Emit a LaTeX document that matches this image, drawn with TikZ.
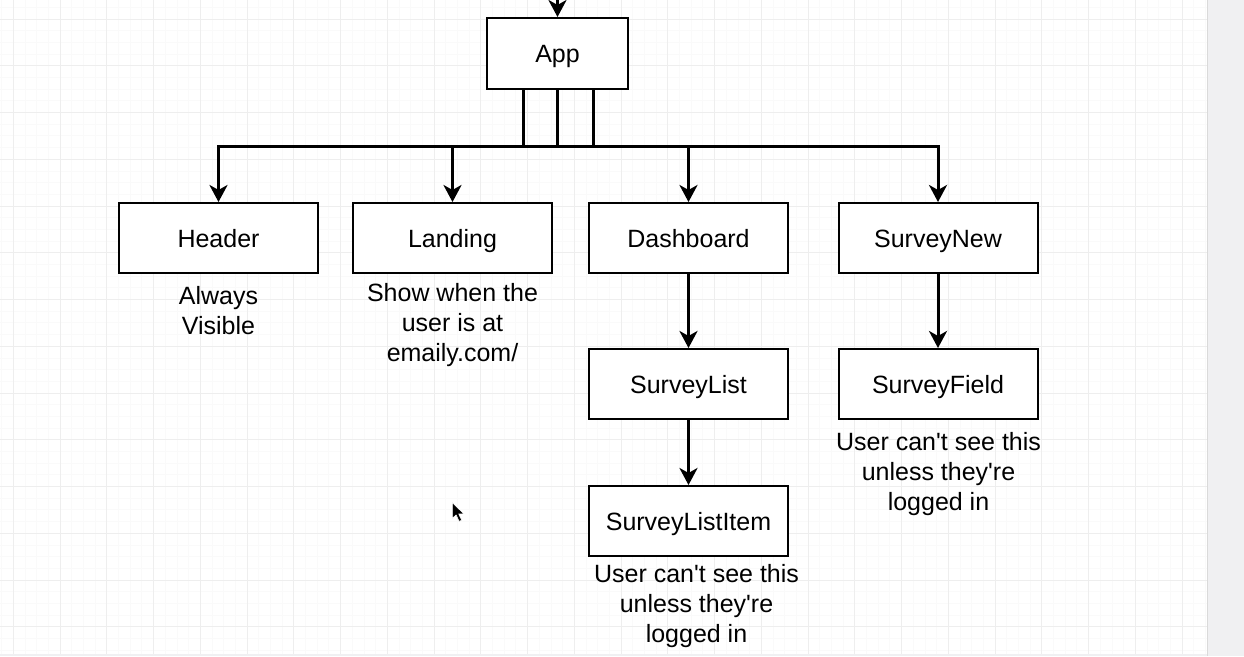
\documentclass[tikz,border=0pt]{standalone}
\usepackage{fontspec}
\setmainfont{Liberation Sans}[Ligatures=TeXOff]
\usetikzlibrary{arrows.meta}
\definecolor{gridminor}{HTML}{FAFAFA}
\definecolor{gridmajor}{HTML}{EEEEEE}
\definecolor{sidebar}{HTML}{F0F0F2}
\definecolor{sideline}{HTML}{DADADA}
\begin{document}
\begin{tikzpicture}[x=1pt,y=-1pt,
  box/.style={draw=black, line width=2pt, fill=white, minimum width=199pt, minimum height=70pt,
    inner sep=0pt, text height=18pt, text depth=0pt, font=\fontsize{25}{30}\selectfont},
  note/.style={align=center, inner sep=0pt, anchor=base, font=\fontsize{25}{30}\selectfont},
  conn/.style={line width=3pt, -{Stealth[length=17pt,width=18pt,inset=5pt]}},
  bus/.style={line width=3pt}]
\useasboundingbox (0,0) rectangle (1244,656);
% background and grid
\fill[white] (0,0) rectangle (1244,656);
\begin{scope}
\clip (0,0) rectangle (1207,653);
\foreach \k in {-1,...,102} {\draw[gridminor, line width=0.8pt] (13.3+11.6875*\k,0) -- ++(0,656);}
\foreach \k in {-2,...,55} {\draw[gridminor, line width=0.8pt] (0,19+11.6875*\k) -- ++(1244,0);}
\foreach \k in {0,...,26} {\draw[gridmajor, line width=0.9pt] (13.3+46.75*\k,0) -- ++(0,656);}
\foreach \k in {0,...,14} {\draw[gridmajor, line width=0.9pt] (0,19+46.75*\k) -- ++(1244,0);}
\end{scope}
\fill[sidebar] (1207,0) rectangle (1244,656);
\draw[sideline, line width=1.2pt] (1207.5,0) -- (1207.5,656);
\fill[sidebar] (0,653.5) rectangle (1207,656);

% nodes
\node[box, minimum width=141pt, minimum height=71pt] (app) at (557.5,53.5) {App};
\node[box] (header) at (218.5,238) {Header};
\node[box] (landing) at (452.5,238) {Landing};
\node[box] (dash) at (688.5,238) {Dashboard};
\node[box] (snew) at (938,238) {SurveyNew};
\node[box] (slist) at (688.5,384) {SurveyList};
\node[box] (sitem) at (688.5,521) {SurveyListItem};
\node[box] (sfield) at (938,384) {SurveyField};

% notes (base anchor = baseline of last line)
\node[note] (nheader) at (218.5,334) {Always\\Visible};
\node[note] (nlanding) at (452.5,361.5) {Show when the\\user is at\\emaily.com/};
\node[note] (nfield) at (938.5,510.5) {User can't see this\\unless they're\\logged in};
\node[note] (nitem) at (696.5,642) {User can't see this\\unless they're\\logged in};

% connectors
\coordinate (top) at (557.5,-4);
\draw[conn] (top) -- (app);
\coordinate (b1) at (523,146);
\coordinate (b2) at (557.5,146);
\coordinate (b3) at (593,146);
\draw[bus] (app.south -| b1) -- (b1);
\draw[bus] (app.south -| b2) -- (b2);
\draw[bus] (app.south -| b3) -- (b3);
\draw[conn] (b2) -- (b2 -| header) -- (header);
\draw[conn] (b2) -- (b2 -| snew) -- (snew);
\draw[conn] (b2 -| landing) -- (landing);
\draw[conn] (b2 -| dash) -- (dash);
\draw[conn] (dash) -- (slist);
\draw[conn] (slist) -- (sitem);
\draw[conn] (snew) -- (sfield);

% mouse cursor
\coordinate (cur) at (452.3,502.5);
\filldraw[fill=black, draw=white, line width=0.6pt, line join=round]
  (cur) -- ++(0,16) -- ++(3.8,-3.6) -- ++(3,6.5) -- ++(2.6,-1.2) -- ++(-3,-6.3) -- ++(5.2,0) -- cycle;
\end{tikzpicture}
\end{document}
